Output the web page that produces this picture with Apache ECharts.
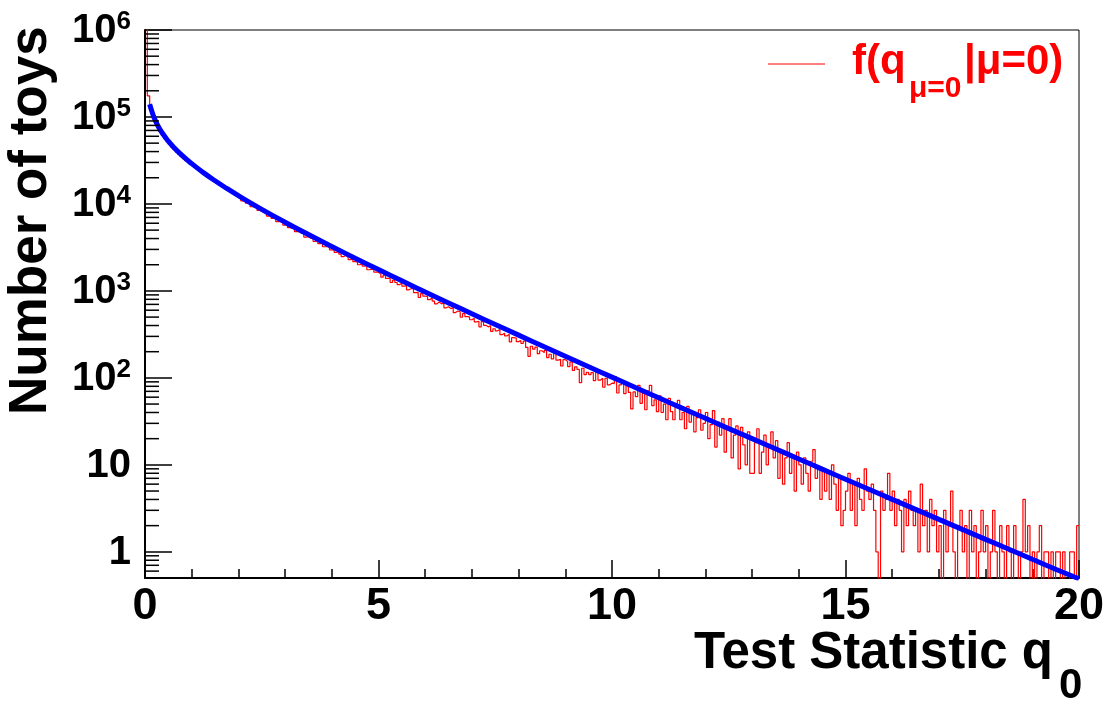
<!DOCTYPE html>
<html>
<head>
<meta charset="utf-8">
<title>Test Statistic q0</title>
<script src="https://cdn.jsdelivr.net/npm/echarts@6/dist/echarts.min.js"></script>
<style>
  html, body { margin: 0; padding: 0; background: #fff; }
  #chart { width: 1113px; height: 706px; }
</style>
</head>
<body>
<div id="chart"></div>
<script>
// toy histogram, bins of 0.05 in q0 starting at 0 (400 bins up to 20)
const binLow = 0;
const binWidth = 0.05;
const toyCounts = [
  1200000, 175000, 120800, 99600, 85700, 75600, 67800, 61570, 56410, 52040,
  48280, 44990, 42090, 39500, 37170, 35060, 33150, 31390, 29780, 28290,
  26910, 25630, 24430, 23320, 22270, 21290, 20370, 19500, 18680, 17910,
  17180, 16490, 15830, 15210, 14620, 14050, 13520, 13010, 12520, 12050,
  11610, 10850, 10920, 10200, 10050, 9280, 9250, 9110, 8430, 8300,
  7930, 7830, 7250, 7230, 6840, 6830, 6260, 6250, 6100, 5710,
  5710, 5340, 5280, 5230, 4800, 4790, 4590, 4580, 4160, 4200,
  4030, 3990, 3700, 3700, 3500, 3550, 3220, 3230, 3200, 2960,
  2970, 2780, 2820, 2650, 2480, 2550, 2440, 2290, 2340, 2170,
  2150, 2000, 2060, 1930, 1960, 1750, 1770, 1770, 1640, 1640,
  1560, 1440, 1520, 1390, 1400, 1250, 1330, 1250, 1180, 1230,
  1135, 1150, 1030, 1060, 1060, 955, 960, 840, 930, 870,
  863, 792, 833, 765, 709, 746, 709, 728, 639, 658,
  625, 642, 563, 587, 576, 498, 550, 505, 502, 466,
  485, 440, 448, 386, 443, 402, 386, 397, 342, 367,
  348, 359, 314, 327, 304, 317, 260, 290, 287, 261,
  268, 249, 265, 224, 177, 231, 214, 226, 190, 205,
  195, 207, 171, 187, 165, 191, 160, 164, 137, 162,
  154, 135, 153, 122, 134, 125, 88, 129, 109, 116,
  109, 115, 93, 116, 94, 99, 78, 99, 83, 87,
  86, 103, 67, 83, 90, 66, 81, 68, 44, 69,
  61, 82, 51, 67, 43, 71, 82, 48, 56, 41,
  62, 40, 50, 33, 58, 41, 33, 46, 55, 33,
  40, 26, 47, 31, 40, 24, 35, 43, 25, 30,
  40, 20, 29, 42, 16, 31, 22, 34, 14, 26,
  34, 12, 22, 28, 9, 27, 17, 10, 24, 8,
  8, 18, 26, 8, 14, 22, 10, 17, 24, 12,
  19, 7, 14, 6, 12, 18, 8, 13, 5, 14,
  10, 6, 12, 8, 5, 11, 15, 7, 9, 4,
  9, 5, 8, 4, 10, 6, 3, 7, 2, 3,
  5, 8, 3, 6, 2, 7, 4, 3, 9, 5,
  4, 6, 3, 1, 0, 5, 3, 4, 8, 3,
  5, 2, 4, 3, 1, 4, 2, 5, 3, 2,
  3, 1, 6, 2, 3, 1, 4, 2, 3, 1,
  2, 0, 3, 1, 2, 5, 1, 0, 2, 3,
  1, 2, 0, 3, 1, 2, 0, 1, 3, 1,
  2, 0, 1, 3, 1, 0, 2, 1, 0, 2,
  1, 0, 2, 1, 0, 1, 4, 1, 2, 0,
  1, 0, 1, 2, 0, 1, 1, 0, 1, 0,
  1, 1, 0, 1, 0, 0, 1, 1, 0, 2
];

// blue curve
const fitQ = [0.1, 0.15, 0.2, 0.3, 0.4, 0.5, 0.6, 0.8, 1, 1.25, 1.5, 1.75, 2, 2.5, 3, 3.5, 4, 4.5, 5,
  5.5, 6, 6.5, 7, 7.5, 8, 8.5, 9, 9.5, 10, 10.5, 11, 11.5, 12, 12.5, 13, 13.5, 14, 14.5, 15,
  15.5, 16, 16.5, 17, 17.5, 18, 18.5, 19, 19.5, 20];
const fitN = [140000, 114700, 96860, 75230, 61970, 52730, 45780, 35880, 29040, 22920, 18460, 15090, 12450,
  8675, 6167, 4447, 3239, 2379, 1757, 1305, 973, 728, 546, 411, 310, 234, 177, 134, 102, 77.5, 59.0,
  44.9, 34.3, 26.1, 20.0, 15.3, 11.7, 8.93, 6.84, 5.24, 4.01, 3.08, 2.36, 1.81, 1.39, 1.07, 0.82, 0.63, 0.49];

// minor ticks of the log axis
const minorMults = [2, 3, 4, 5, 6, 7, 8, 9];
const minorDecades = [1, 10, 100, 1000, 10000, 100000];
const minorBelowOne = [0.6, 0.7, 0.8, 0.9];

const legendName = 'f(q_{\u03bc=0}|\u03bc=0)';
const FONT = '"Liberation Sans", Arial, Helvetica, sans-serif';

// empty bins go below the frame, like ROOT does on a log scale
const histData = toyCounts.map((c, i) => [binLow + i * binWidth, c > 0 ? c : 0.1]);
histData.push([binLow + toyCounts.length * binWidth, histData[histData.length - 1][1]]);

const fitData = fitQ.map((q, i) => [q, fitN[i]]);

const yMinor = minorBelowOne.slice();
minorDecades.forEach(d => minorMults.forEach(m => yMinor.push(m * d)));

const chart = echarts.init(document.getElementById('chart'));

const option = {
  animation: false,
  backgroundColor: '#fff',
  grid: {
    left: 145, right: 34, top: 30, bottom: 128,
    show: true, borderColor: '#000', borderWidth: 1,
    outerBoundsMode: 'none'
  },
  xAxis: {
    type: 'value',
    min: 0, max: 20, interval: 5,
    axisLine: { lineStyle: { color: '#000', width: 2 } },
    axisTick: { inside: true, length: 18, lineStyle: { color: '#000', width: 1.5 } },
    minorTick: { show: true, splitNumber: 5, length: 9, lineStyle: { color: '#000', width: 1.5 } },
    splitLine: { show: false },
    axisLabel: {
      margin: 6,
      color: '#000',
      fontSize: 45,
      fontWeight: 'bold',
      fontFamily: FONT
    }
  },
  yAxis: {
    type: 'log',
    logBase: 10,
    min: 0.5, max: 1000000,
    axisLine: { lineStyle: { color: '#000', width: 2 } },
    axisTick: { inside: true, length: 27, lineStyle: { color: '#000', width: 1.5 } },
    splitLine: { show: false },
    axisLabel: {
      margin: 14,
      formatter: function (v) {
        const e = Math.round(Math.log10(v));
        if (Math.abs(Math.log10(v) - e) > 1e-6) return '';
        if (e === 0) return '{b|1}';
        if (e === 1) return '{b|10}';
        return '{b|10}{e|' + e + '}';
      },
      rich: {
        b: { fontSize: 40, fontWeight: 'bold', fontFamily: FONT, color: '#000', verticalAlign: 'bottom', lineHeight: 42 },
        e: { fontSize: 26, fontWeight: 'bold', fontFamily: FONT, color: '#000', verticalAlign: 'top', lineHeight: 26 }
      }
    }
  },
  series: [
    {
      name: legendName,
      type: 'line',
      data: histData,
      step: 'end',
      showSymbol: false,
      clip: true,
      lineStyle: { color: '#ff0000', width: 1.2 },
      itemStyle: { color: '#ff0000' },
      z: 2
    },
    {
      name: 'fit',
      type: 'line',
      data: fitData,
      smooth: true,
      showSymbol: false,
      clip: true,
      lineStyle: { color: '#0000ff', width: 5 },
      itemStyle: { color: '#0000ff' },
      z: 3
    },
    {
      name: 'minor ticks',
      type: 'custom',
      silent: true,
      data: yMinor.map(v => [0, v]),
      renderItem: function (params, api) {
        const p = api.coord([0, api.value(1)]);
        return {
          type: 'line',
          shape: { x1: p[0], y1: p[1], x2: p[0] + 14, y2: p[1] },
          style: { stroke: '#000', lineWidth: 1.5 }
        };
      },
      z: 5
    }
  ],
  graphic: [
    // y title
    {
      type: 'text', x: 31, y: 415, rotation: Math.PI / 2,
      style: { text: 'Number of toys', font: 'bold 53px ' + FONT, fill: '#000', align: 'left', verticalAlign: 'middle' }
    },
    // x title
    {
      type: 'text', x: 1053, y: 654,
      style: { text: 'Test Statistic q', font: 'bold 51px ' + FONT, fill: '#000', align: 'right', verticalAlign: 'middle' }
    },
    {
      type: 'text', x: 1059, y: 686,
      style: { text: '0', font: 'bold 42px ' + FONT, fill: '#000', align: 'left', verticalAlign: 'middle' }
    },
    // legend
    {
      type: 'line', shape: { x1: 768, y1: 64, x2: 825, y2: 64 },
      style: { stroke: '#ff0000', lineWidth: 1 }
    },
    {
      type: 'text', x: 852, y: 62,
      style: { text: 'f(q', font: 'bold 42px ' + FONT, fill: '#ff0000', align: 'left', verticalAlign: 'middle' }
    },
    {
      type: 'text', x: 909, y: 89,
      style: { text: '\u03bc=0', font: 'bold 30px ' + FONT, fill: '#ff0000', align: 'left', verticalAlign: 'middle' }
    },
    {
      type: 'text', x: 964, y: 62,
      style: { text: '|\u03bc=0)', font: 'bold 42px ' + FONT, fill: '#ff0000', align: 'left', verticalAlign: 'middle' }
    }
  ]
};

chart.setOption(option);
</script>
</body>
</html>
